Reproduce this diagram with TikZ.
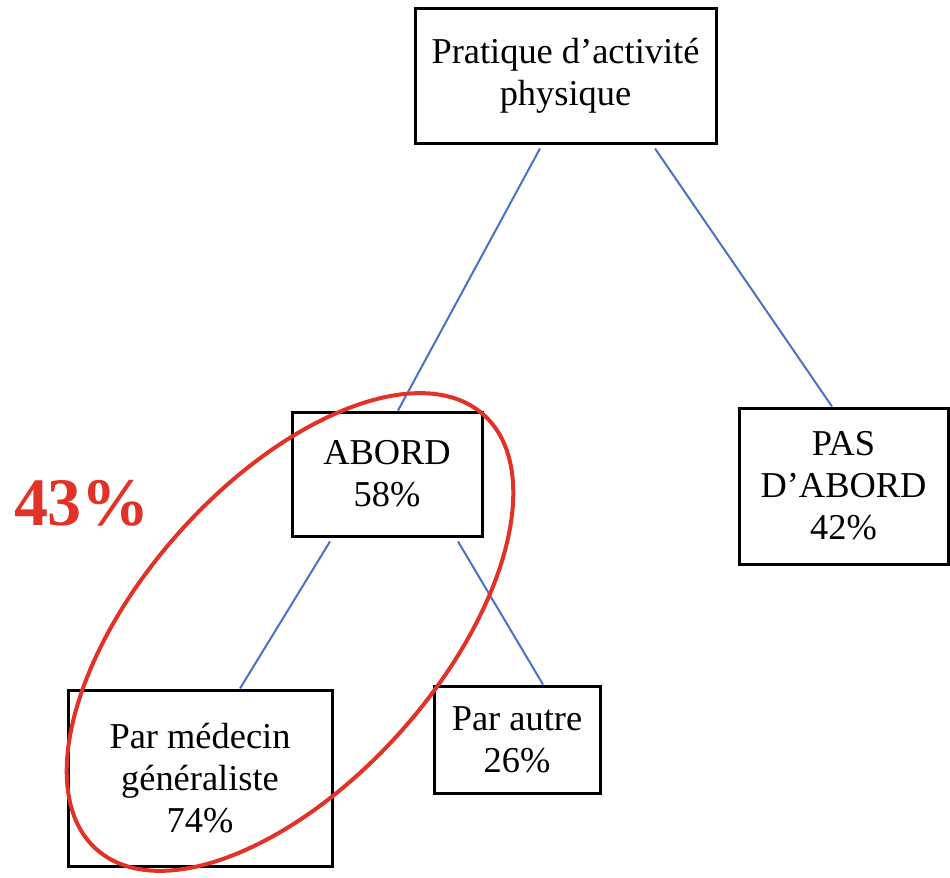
\documentclass[tikz,border=0pt]{standalone}
\usepackage{fontspec}
\setmainfont{Liberation Serif}
\definecolor{linkblue}{RGB}{72,114,196}
\definecolor{markred}{RGB}{226,50,40}
\tikzset{
  box/.style={draw=black, line width=1.5pt, fill=white, inner sep=0pt, align=center,
    font=\fontsize{18.2pt}{21pt}\selectfont},
  link/.style={draw=linkblue, line width=1pt},
}
\begin{document}
\begin{tikzpicture}[x=0.5pt,y=-0.5pt]
\useasboundingbox (0,0) rectangle (950,878);
\node[box, minimum width=150.5pt, minimum height=67.5pt] (top) at (565.5,75.5) {Pratique d’activité\\physique};
\node[box, minimum width=95pt, minimum height=62pt] (abord) at (387,474) {ABORD\\58\%};
\node[box, minimum width=104.5pt, minimum height=78pt] (pas) at (843.5,486) {PAS\\D’ABORD\\42\%};
\node[box, minimum width=132pt, minimum height=88pt] (med) at (200,778) {Par médecin\\généraliste\\74\%};
\node[box, minimum width=83pt, minimum height=53.5pt] (autre) at (517,739.5) {Par autre\\26\%};
\draw[link] ([xshift=-12.75pt,yshift=-2pt]top.south) -- ([xshift=5.5pt]abord.north);
\draw[link] ([xshift=44.75pt,yshift=-2pt]top.south) -- ([xshift=-5.75pt]pas.north);
\draw[link] ([xshift=-28.5pt,yshift=-2pt]abord.south) -- ([xshift=20pt]med.north);
\draw[link] ([xshift=35.5pt,yshift=-2pt]abord.south) -- ([xshift=13pt]autre.north);
\draw[markred, line width=2pt, rotate around={48.3:(290,632)}] (290,632) ellipse [x radius=145.5pt, y radius=74.5pt];
\node[text=markred, font=\fontsize{34pt}{36pt}\selectfont\bfseries, inner sep=0pt] (pct) at (82,503) {43\%};
\end{tikzpicture}
\end{document}
